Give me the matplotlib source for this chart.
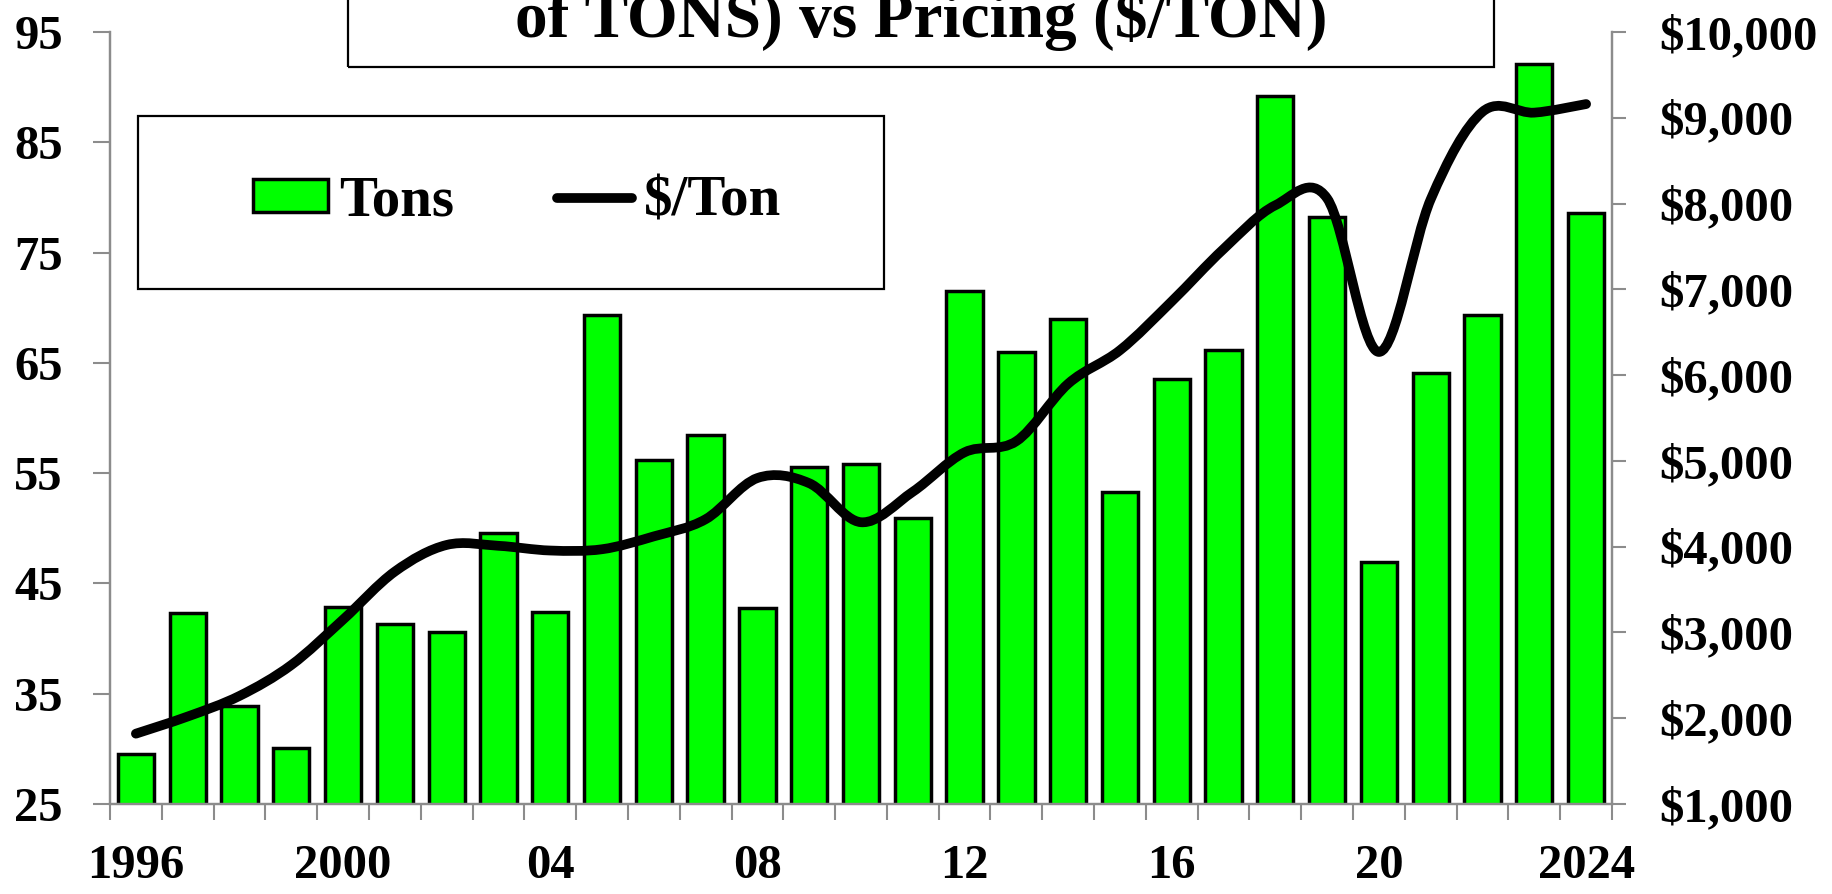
import matplotlib
matplotlib.use('Agg')
import matplotlib.pyplot as plt
from matplotlib.path import Path
from matplotlib.patches import PathPatch, Rectangle
from matplotlib.lines import Line2D
import numpy as np

# ---------------- data ----------------
years = list(range(1996, 2025))
tons = [29.5, 42.3, 33.9, 30.1, 42.9, 41.3, 40.6, 49.6, 42.4, 69.3,
        56.2, 58.5, 42.8, 55.6, 55.8, 50.9, 71.5, 66.0, 69.0, 53.3,
        63.5, 66.2, 89.2, 78.2, 46.9, 64.1, 69.3, 92.1, 78.6]
price = [1820, 2020, 2260, 2620, 3150, 3710, 4020, 4010, 3955, 3970,
         4120, 4320, 4800, 4740, 4285, 4640, 5100, 5230, 5900, 6290,
         6860, 7470, 7980, 8060, 6270, 8050, 9070, 9060, 9160]
xtick_years = [1996, 2000, 2004, 2008, 2012, 2016, 2020, 2024]
xtick_labels = ['1996', '2000', '04', '08', '12', '16', '20', '2024']
left_ticks = [25, 35, 45, 55, 65, 75, 85, 95]
right_ticks = [1000, 2000, 3000, 4000, 5000, 6000, 7000, 8000, 9000, 10000]
title_text = 'of TONS) vs Pricing ($/TON)'
legend_labels = ['Tons', '$/Ton']

# ---------------- style ----------------
plt.rcParams['font.family'] = ['Liberation Serif', 'DejaVu Serif']
plt.rcParams['font.weight'] = 'bold'

W, H = 1833, 894
fig = plt.figure(figsize=(W / 100, H / 100), dpi=100)
GREY = '#8c8c8c'

ax_l, ax_r, ax_t, ax_b = 110, 1612, 32, 804
ax = fig.add_axes([ax_l / W, 1 - ax_b / H, (ax_r - ax_l) / W, (ax_b - ax_t) / H])
ax2 = ax.twinx()

bars = ax.bar(years, tons, width=0.7, color='#00ff00', edgecolor='black',
              linewidth=2.5, zorder=2)
ax.set_xlim(years[0] - 0.5, years[-1] + 0.5)
ax.set_ylim(left_ticks[0], left_ticks[-1])
ax2.set_ylim(right_ticks[0], right_ticks[-1])


def smooth_path(xs, ys):
    pts = np.column_stack([xs, ys]).astype(float)
    n = len(pts)
    verts = [pts[0]]
    codes = [Path.MOVETO]
    for i in range(n - 1):
        p0 = pts[i - 1] if i > 0 else pts[i]
        p1 = pts[i]
        p2 = pts[i + 1]
        p3 = pts[i + 2] if i + 2 < n else pts[i + 1]
        c1 = p1 + (p2 - p0) / 6.0
        c2 = p2 - (p3 - p1) / 6.0
        verts += [c1, c2, p2]
        codes += [Path.CURVE4] * 3
    return Path(verts, codes)


LINE_W = 7
line_patch = PathPatch(smooth_path(years, price), facecolor='none',
                       edgecolor='black', lw=LINE_W, capstyle='round',
                       joinstyle='round', zorder=3)
ax2.add_patch(line_patch)

# spines
for a in (ax, ax2):
    a.spines['top'].set_visible(False)
    for s in ('left', 'right', 'bottom'):
        a.spines[s].set_color(GREY)
        a.spines[s].set_linewidth(1.6)

# x ticks: marks at category boundaries, labels at selected years
ax.set_xticks([y - 0.5 for y in years] + [years[-1] + 0.5])
ax.set_xticklabels([])
ax.tick_params(axis='x', which='major', direction='out', length=11.5,
               width=1.5, color=GREY)
ax.set_xticks(xtick_years, minor=True)
ax.set_xticklabels(xtick_labels, minor=True)
ax.tick_params(axis='x', which='minor', length=0, pad=29, labelsize=35)

# left y
ax.set_yticks(left_ticks)
ax.set_yticklabels([str(v) for v in left_ticks])
ax.tick_params(axis='y', direction='out', length=12, width=1.5, color=GREY,
               pad=22, labelsize=35)

# right y
ax2.set_yticks(right_ticks)
ax2.set_yticklabels(['${:,.0f}'.format(v) for v in right_ticks])
ax2.tick_params(axis='y', direction='out', length=10, width=1.5, color=GREY,
                pad=24, labelsize=35)

# title box (top clipped by figure edge)
title_box = Rectangle((348 / W, 1 - 67 / H), (1494 - 348) / W, 0.3,
                      transform=fig.transFigure, fill=False, ec='black',
                      lw=1.6, clip_on=False)
fig.add_artist(title_box)
fig.text(921 / W, 1 - 37 / H, title_text, ha='center', va='baseline',
         fontsize=47, fontweight='bold')

# legend box
leg_box = Rectangle((138 / W, 1 - 289 / H), (884 - 138) / W, (289 - 116) / H,
                    transform=fig.transFigure, fill=False, ec='black', lw=1.6)
fig.add_artist(leg_box)
line_proxy = Line2D([], [], color='black', lw=LINE_W, solid_capstyle='round')
fig.legend([bars, line_proxy], legend_labels, loc='center',
           bbox_to_anchor=(517 / W, 1 - 202 / H), ncol=2, frameon=False,
           fontsize=41, handlelength=1.32, handleheight=0.52,
           handletextpad=0.2, columnspacing=1.8)

fig.savefig('out.png', dpi=100)
